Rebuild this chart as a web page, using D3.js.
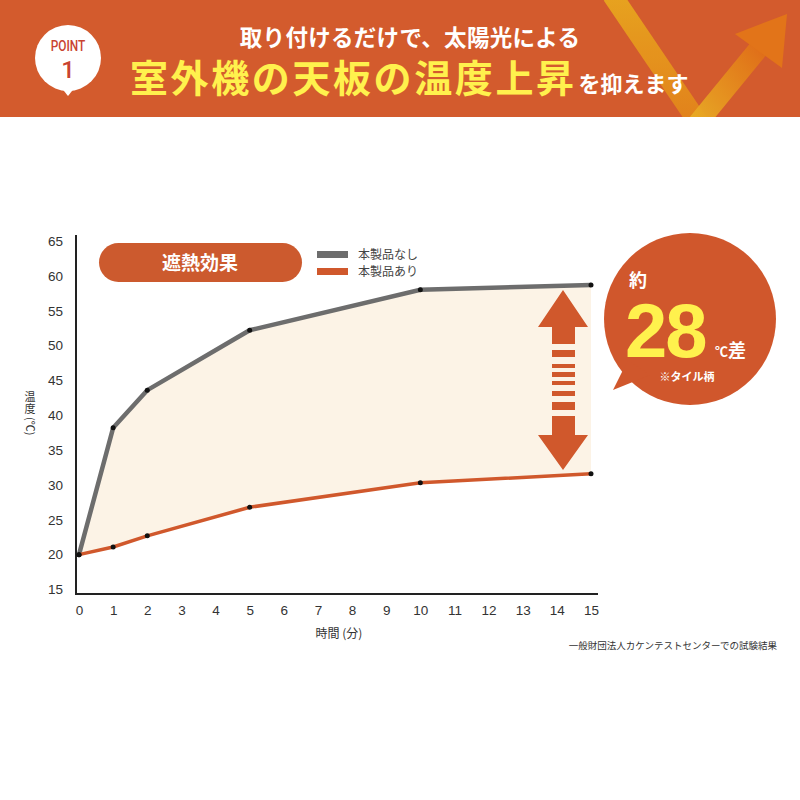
<!DOCTYPE html>
<html><head><meta charset="utf-8">
<script src="https://cdn.jsdelivr.net/npm/d3@7/dist/d3.min.js"></script>
<style>
html,body{margin:0;padding:0;background:#fff;}
svg{display:block;}
</style></head>
<body>
<script>
const minutes = [0, 1, 2, 5, 10, 15];
const withoutProduct = [20, 38.2, 43.6, 52.2, 58, 58.7];
const withProduct = [20, 21.1, 22.7, 26.8, 30.3, 31.6];
const seriesNames = ["本製品なし", "本製品あり"];
const xTicks = d3.range(0, 16);
const yTicks = [15, 20, 25, 30, 35, 40, 45, 50, 55, 60, 65];

const W = 800, H = 800;
const jp = "'Noto Sans CJK JP', 'Noto Sans', sans-serif";
const num = "'Liberation Sans', Arial, sans-serif";
const orange = "#d0582c", gray = "#6d6d6d", yellow = "#fff14d";

const svg = d3.select("body").append("svg").attr("width", W).attr("height", H);
const defs = svg.append("defs");

// ---------- Header ----------
svg.append("rect").attr("x", 0).attr("y", 0).attr("width", W).attr("height", 117).attr("fill", "#d35b2d");
const g1 = defs.append("linearGradient").attr("id", "gA").attr("x1", "0").attr("y1", "0").attr("x2", "0").attr("y2", "1");
g1.append("stop").attr("offset", "0").attr("stop-color", "#e9a71f");
g1.append("stop").attr("offset", "1").attr("stop-color", "#e2831b");
const g2 = defs.append("linearGradient").attr("id", "gB").attr("x1", "0").attr("y1", "1").attr("x2", "1").attr("y2", "0");
g2.append("stop").attr("offset", "0").attr("stop-color", "#eab126");
g2.append("stop").attr("offset", "1").attr("stop-color", "#e06c17");
const deco = svg.append("g");
deco.append("line").attr("x1", 612).attr("y1", -5).attr("x2", 700).attr("y2", 125)
  .attr("stroke", "url(#gA)").attr("stroke-width", 20).attr("opacity", 0.95);
deco.append("line").attr("x1", 692).attr("y1", 130).attr("x2", 764).attr("y2", 42)
  .attr("stroke", "url(#gB)").attr("stroke-width", 20).attr("opacity", 0.95);
deco.append("polygon").attr("points", "735,34 787,14 782,68").attr("fill", "#e27419");
svg.append("rect").attr("x", 0).attr("y", 117).attr("width", W).attr("height", 20).attr("fill", "#fff");

// POINT bubble
svg.append("circle").attr("cx", 68).attr("cy", 58).attr("r", 33).attr("fill", "#fff");
svg.append("polygon").attr("points", "60,86 76,86 68,96").attr("fill", "#fff");
svg.append("text").attr("x", 68).attr("y", 51).attr("text-anchor", "middle")
  .attr("font-family", "'Roboto', 'Liberation Sans Narrow', sans-serif").attr("font-size", 14).attr("font-weight", 500)
  .attr("fill", "#c94330").attr("transform", "translate(68,0) scale(0.85,1) translate(-68,0)").text("POINT");
svg.append("text").attr("x", 68).attr("y", 78).attr("text-anchor", "middle")
  .attr("font-family", "'Roboto', sans-serif").attr("font-size", 24).attr("font-weight", 500)
  .attr("fill", "#c94330").text("1");

svg.append("text").attr("x", 410).attr("y", 46).attr("text-anchor", "middle")
  .attr("font-family", jp).attr("font-size", 22.5).attr("font-weight", 700).attr("fill", "#fff")
  .attr("letter-spacing", 0.3)
  .text("取り付けるだけで、太陽光による");
const t2 = svg.append("text").attr("x", 130).attr("y", 92)
  .attr("font-family", jp).attr("font-weight", 700);
t2.append("tspan").attr("font-size", 38).attr("fill", yellow).attr("letter-spacing", 2.6).text("室外機の天板の温度上昇");
t2.append("tspan").attr("font-size", 22).attr("fill", "#fff").attr("dx", 2).text("を抑えます");

// ---------- Chart ----------
const x = d3.scaleLinear().domain([0, 15]).range([79, 591]);
const y = d3.scaleLinear().domain([15, 65]).range([589.5, 241]);
const axisY = 594, axisX = 76;

const data = minutes.map((m, i) => ({ m, a: withoutProduct[i], b: withProduct[i] }));

svg.append("path").datum(data)
  .attr("d", d3.area().x(d => x(d.m)).y0(d => y(d.b)).y1(d => y(d.a)))
  .attr("fill", "#fcf3e6");

const yAxis = d3.axisLeft(y).tickValues(yTicks).tickSize(0).tickPadding(13);
const yg = svg.append("g").attr("transform", `translate(${axisX},0)`).call(yAxis);
yg.select(".domain").remove();
yg.selectAll("text").attr("font-family", num).attr("font-size", 13.5).attr("fill", "#333");
svg.append("line").attr("x1", axisX).attr("x2", axisX).attr("y1", 235).attr("y2", axisY + 1)
  .attr("stroke", "#222").attr("stroke-width", 2);

const xAxis = d3.axisBottom(x).tickValues(xTicks).tickSize(0).tickPadding(11);
const xg = svg.append("g").attr("transform", `translate(0,${axisY})`).call(xAxis);
xg.select(".domain").remove();
xg.selectAll("text").attr("font-family", num).attr("font-size", 13.5).attr("fill", "#333");
svg.append("line").attr("x1", axisX).attr("x2", 598).attr("y1", axisY).attr("y2", axisY)
  .attr("stroke", "#222").attr("stroke-width", 2);

const lineA = d3.line().x(d => x(d.m)).y(d => y(d.a));
const lineB = d3.line().x(d => x(d.m)).y(d => y(d.b));
svg.append("path").datum(data).attr("d", lineA).attr("fill", "none").attr("stroke", gray).attr("stroke-width", 4.5);
svg.append("path").datum(data).attr("d", lineB).attr("fill", "none").attr("stroke", orange).attr("stroke-width", 3.5);
svg.selectAll(".pa").data(data).enter().append("circle").attr("cx", d => x(d.m)).attr("cy", d => y(d.a)).attr("r", 2.5).attr("fill", "#111");
svg.selectAll(".pb").data(data).enter().append("circle").attr("cx", d => x(d.m)).attr("cy", d => y(d.b)).attr("r", 2.5).attr("fill", "#111");

// axis titles (vertical)
const yl = svg.append("g").attr("font-family", jp).attr("font-size", 11).attr("fill", "#333");
["温", "度"].forEach((ch, i) => {
  yl.append("text").attr("x", 30).attr("y", 401 + i * 12).attr("text-anchor", "middle").text(ch);
});
yl.append("text").attr("transform", "translate(26,417) rotate(90)").text("(℃)");
svg.append("text").attr("x", 339).attr("y", 638).attr("text-anchor", "middle")
  .attr("font-family", jp).attr("font-size", 12).attr("fill", "#333").text("時間 (分)");
svg.append("text").attr("x", 777).attr("y", 649).attr("text-anchor", "end")
  .attr("font-family", jp).attr("font-size", 9.5).attr("fill", "#333").text("一般財団法人カケンテストセンターでの試験結果");

// pill
svg.append("rect").attr("x", 99).attr("y", 243).attr("width", 203).attr("height", 39).attr("rx", 19.5).attr("fill", "#cc5a2e");
svg.append("text").attr("x", 200).attr("y", 270).attr("text-anchor", "middle")
  .attr("font-family", jp).attr("font-size", 19).attr("font-weight", 700).attr("fill", "#fff").text("遮熱効果");

// legend
const leg = svg.append("g");
[gray, orange].forEach((c, i) => {
  leg.append("rect").attr("x", 317).attr("y", 251 + i * 17).attr("width", 31).attr("height", 7).attr("fill", c);
  leg.append("text").attr("x", 358).attr("y", 259 + i * 17).attr("font-family", jp).attr("font-size", 12)
    .attr("fill", "#444").text(seriesNames[i]);
});

// double arrow
const ax = 563;
const ar = svg.append("g").attr("fill", orange);
ar.append("polygon").attr("points", `${ax},290 ${ax + 25},327 ${ax + 12},327 ${ax + 12},344 ${ax - 11},344 ${ax - 11},327 ${ax - 25},327`);
[[350, 357], [364, 368], [372, 377], [381, 385], [391, 396], [402, 410]].forEach(([a, b]) => {
  ar.append("rect").attr("x", ax - 11).attr("y", a).attr("width", 23).attr("height", b - a);
});
ar.append("polygon").attr("points", `${ax},470 ${ax + 25},435 ${ax + 12},435 ${ax + 12},416 ${ax - 11},416 ${ax - 11},435 ${ax - 25},435`);

// speech bubble
svg.append("circle").attr("cx", 690).attr("cy", 319).attr("r", 86).attr("fill", "#d0572c");
svg.append("polygon").attr("points", "628,360 613,390 650,375").attr("fill", "#d0572c");
svg.append("text").attr("x", 629).attr("y", 287).attr("font-family", jp).attr("font-size", 18).attr("font-weight", 700).attr("fill", "#fff").text("約");
svg.append("text").attr("x", 625).attr("y", 357).attr("font-family", "'Liberation Sans', Arial, sans-serif")
  .attr("font-size", 76).attr("font-weight", 700).attr("fill", yellow).attr("letter-spacing", -2).text("28");
const cd = svg.append("text").attr("x", 715).attr("y", 357).attr("font-family", jp).attr("font-weight", 700).attr("fill", "#fff");
cd.append("tspan").attr("font-size", 13).attr("dy", -1).text("℃");
cd.append("tspan").attr("font-size", 18).attr("dy", 1).text("差");
svg.append("text").attr("x", 687).attr("y", 381).attr("text-anchor", "middle").attr("font-family", jp).attr("font-size", 11).attr("font-weight", 700).attr("fill", "#fff").text("※タイル柄");
</script>
</body></html>
